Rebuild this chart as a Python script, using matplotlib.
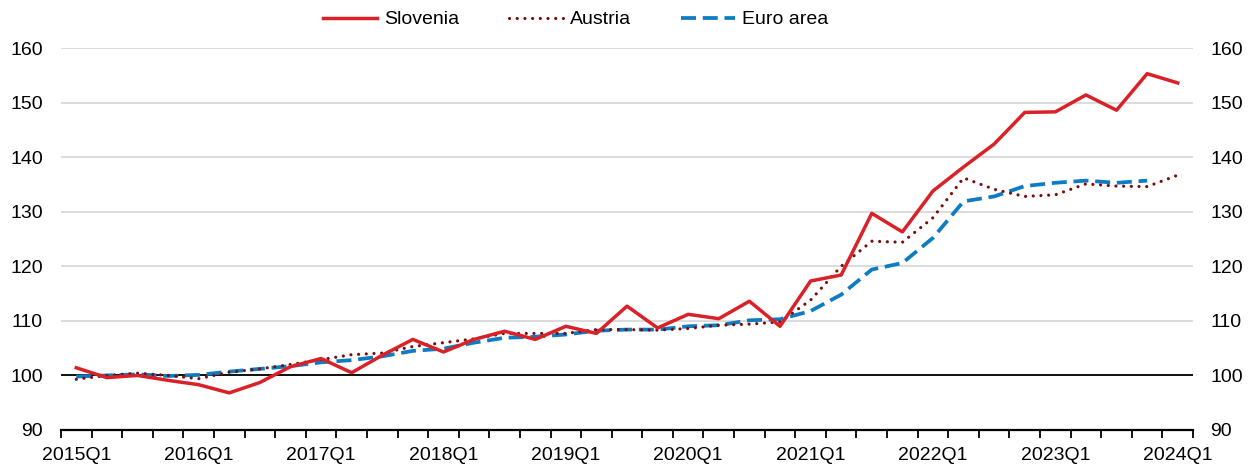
import numpy as np
import matplotlib
matplotlib.use("Agg")
import matplotlib.pyplot as plt

plt.rcParams['font.family'] = ['Liberation Sans', 'DejaVu Sans']

# Quarterly index, 2015Q1 = 100
quarters = [f"{y}Q{q}" for y in range(2015, 2025) for q in range(1, 5)][:37]

slovenia = [101.4, 99.6, 100.0, 99.1, 98.3, 96.8, 98.7, 101.6, 103.1, 100.5,
            103.7, 106.6, 104.3, 106.6, 108.1, 106.6, 109.0, 107.7, 112.7, 108.7,
            111.2, 110.4, 113.6, 109.0, 117.3, 118.4, 129.7, 126.3, 133.8, 138.2,
            142.4, 148.2, 148.3, 151.4, 148.6, 155.3, 153.6]
austria = [99.3, 100.0, 100.4, 100.0, 99.4, 100.6, 101.2, 102.0, 102.9, 103.8,
           104.1, 105.3, 106.0, 106.7, 107.7, 107.7, 107.7, 108.4, 108.4, 108.3,
           108.6, 109.2, 109.4, 109.8, 113.8, 120.0, 124.6, 124.4, 128.9, 136.2,
           134.1, 132.8, 133.1, 135.1, 134.7, 134.6, 136.7]
euro_area = [99.8, 100.0, 100.2, 99.9, 100.1, 100.7, 101.2, 101.7, 102.4, 102.8,
             103.5, 104.5, 104.9, 106.0, 106.9, 107.1, 107.5, 108.2, 108.4, 108.4,
             109.0, 109.2, 110.1, 110.3, 111.8, 114.8, 119.4, 120.6, 125.2, 131.9,
             132.8, 134.7, 135.3, 135.7, 135.3, 135.7]

yticks = [90, 100, 110, 120, 130, 140, 150, 160]

c_slo = '#DA2128'
c_aut = '#7B0C0C'
c_ea = '#0E7CC4'
fs = 14

fig = plt.figure(figsize=(12.52, 4.68), dpi=100)
ax = fig.add_axes([0.0487, 0.0812, 0.9042, 0.8162])

x = np.arange(len(quarters))
ax.plot(x[:len(slovenia)], slovenia, color=c_slo, lw=2.5, label='Slovenia', zorder=4)
ax.plot(x[:len(austria)], austria, color=c_aut, lw=2.3, linestyle=(0, (0.01, 2.4)),
        dash_capstyle='round', label='Austria', zorder=3)
ax.plot(x[:len(euro_area)], euro_area, color=c_ea, lw=2.7, linestyle=(0, (4.0, 1.8)),
        label='Euro area', zorder=2)

ax.axhline(100, color='black', lw=1.3, zorder=1)

ax.set_xlim(-0.5, len(quarters) - 0.5)
ax.set_ylim(90, 160)
ax.set_yticks(yticks)
ax.grid(axis='y', color='#d9d9d9', lw=1.3, zorder=0)
ax.set_axisbelow(True)

for s in ['top', 'right', 'left']:
    ax.spines[s].set_visible(False)
ax.spines['bottom'].set_linewidth(1.6)

# ticks at category boundaries, labels every 4 quarters
ax.set_xticks(np.arange(-0.5, len(quarters), 1))
ax.set_xticklabels([])
ax.tick_params(axis='x', which='major', length=6, width=1.3, direction='out')
ax.set_xticks(x[::4], minor=True)
ax.set_xticklabels(quarters[::4], minor=True, fontsize=fs)
ax.tick_params(axis='x', which='minor', length=0, pad=12)
ax.tick_params(axis='y', length=0, labelsize=fs, pad=13)

ax2 = ax.twinx()
ax2.set_ylim(ax.get_ylim())
ax2.set_yticks(yticks)
ax2.tick_params(axis='y', length=0, labelsize=fs, pad=12.5)
for s in ax2.spines.values():
    s.set_visible(False)

h, l = ax.get_legend_handles_labels()
fig.legend(h, l, loc='upper left', bbox_to_anchor=(323 / 1252, 0.977), ncol=3, frameon=False,
           fontsize=fs, handlelength=2.8, handletextpad=0.35, columnspacing=2.55,
           borderpad=0, borderaxespad=0)

fig.savefig('out.png', dpi=100)
